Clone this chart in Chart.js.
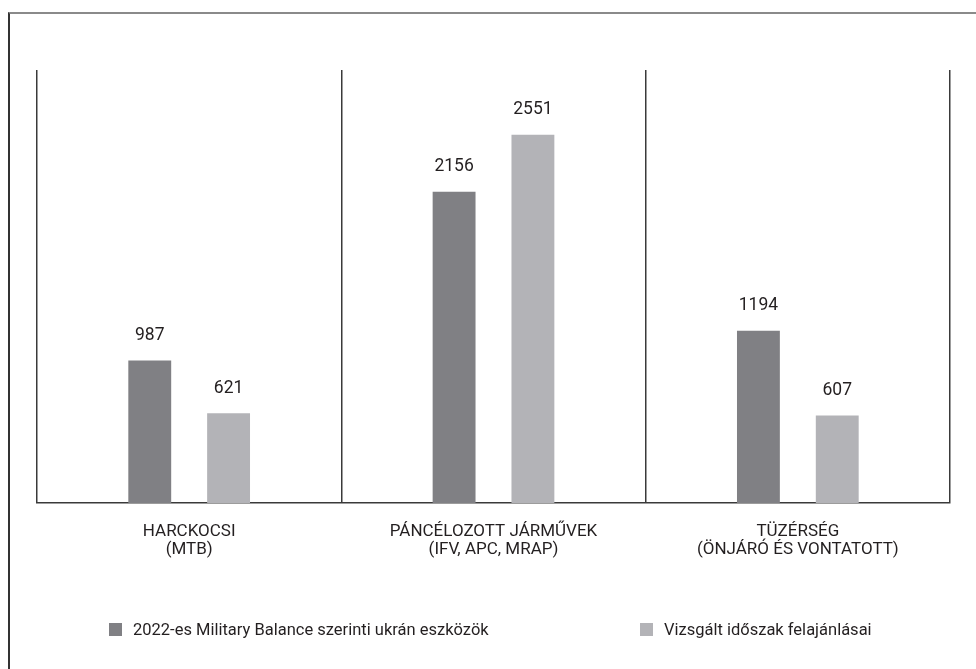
<!DOCTYPE html>
<html>
<head>
<meta charset="utf-8">
<script src="https://cdn.jsdelivr.net/npm/chart.js@4.4.1/dist/chart.umd.min.js"></script>
<style>
  html, body { margin: 0; padding: 0; background: #fff; }
  #wrap { position: relative; width: 976px; height: 669px; overflow: hidden; font-family: Roboto, sans-serif; }
  #frame { position: absolute; left: 8px; top: 12px; width: 1000px; height: 700px; border-top: 2px solid #8a8a8a; border-left: 2px solid #333; }
  #c { position: absolute; left: 0; top: 0; }
  .leg { position: absolute; top: 620px; display: flex; align-items: center; font-size: 16.5px; color: #231f20; white-space: nowrap; }
  .leg i { display: inline-block; width: 13px; height: 13px; margin-right: 11px; }
</style>
</head>
<body>
<div id="wrap">
  <div id="frame"></div>
  <canvas id="c" width="976" height="669"></canvas>
  <div id="leg"></div>
</div>
<script>
const categories = [
  ["HARCKOCSI", "(MTB)"],
  ["PÁNCÉLOZOTT JÁRMŰVEK", "(IFV, APC, MRAP)"],
  ["TÜZÉRSÉG", "(ÖNJÁRÓ ÉS VONTATOTT)"]
];
const seriesNames = ["2022-es Military Balance szerinti ukrán eszközök", "Vizsgált időszak felajánlásai"];
const assets2022 = [987, 2156, 1194];
const offered = [621, 2551, 607];
const colors = ["#808084", "#b3b3b7"];
const legendLeft = [109, 640];

const valueLabels = {
  id: 'valueLabels',
  afterDatasetsDraw(chart) {
    const ctx = chart.ctx;
    ctx.save();
    ctx.font = '17.5px Roboto, sans-serif';
    ctx.fillStyle = '#231f20';
    ctx.textAlign = 'center';
    ctx.textBaseline = 'middle';
    chart.data.datasets.forEach((ds, di) => {
      chart.getDatasetMeta(di).data.forEach((bar, i) => {
        ctx.fillText(String(ds.data[i]), bar.x, bar.y - 25);
      });
    });
    ctx.restore();
  }
};

const chart = new Chart(document.getElementById('c'), {
  type: 'bar',
  data: {
    labels: categories,
    datasets: [
      { label: seriesNames[0], data: assets2022, backgroundColor: colors[0] },
      { label: seriesNames[1], data: offered, backgroundColor: colors[1] }
    ]
  },
  options: {
    responsive: false,
    animation: false,
    devicePixelRatio: 1,
    categoryPercentage: 0.518,
    barPercentage: 0.544,
    layout: { padding: { left: 37, right: 26, top: 70, bottom: 106 } },
    plugins: { legend: { display: false }, tooltip: { enabled: false } },
    scales: {
      x: {
        grid: { offset: true, color: '#3a3a3a', lineWidth: 1.5, drawTicks: false },
        border: { display: true, color: '#3a3a3a', width: 1.5 },
        ticks: { color: '#231f20', font: { family: 'Roboto, sans-serif', size: 17, lineHeight: 1.05 }, padding: 20, maxRotation: 0, autoSkip: false },
        afterFit(scale) { scale.height = 60; }
      },
      y: { display: false, min: 0, max: 3000 }
    }
  },
  plugins: [valueLabels]
});

const leg = document.getElementById('leg');
chart.data.datasets.forEach((ds, i) => {
  const d = document.createElement('div');
  d.className = 'leg';
  d.style.left = legendLeft[i] + 'px';
  const sw = document.createElement('i');
  sw.style.background = ds.backgroundColor;
  d.appendChild(sw);
  d.appendChild(document.createTextNode(ds.label));
  leg.appendChild(d);
});
</script>
</body>
</html>
